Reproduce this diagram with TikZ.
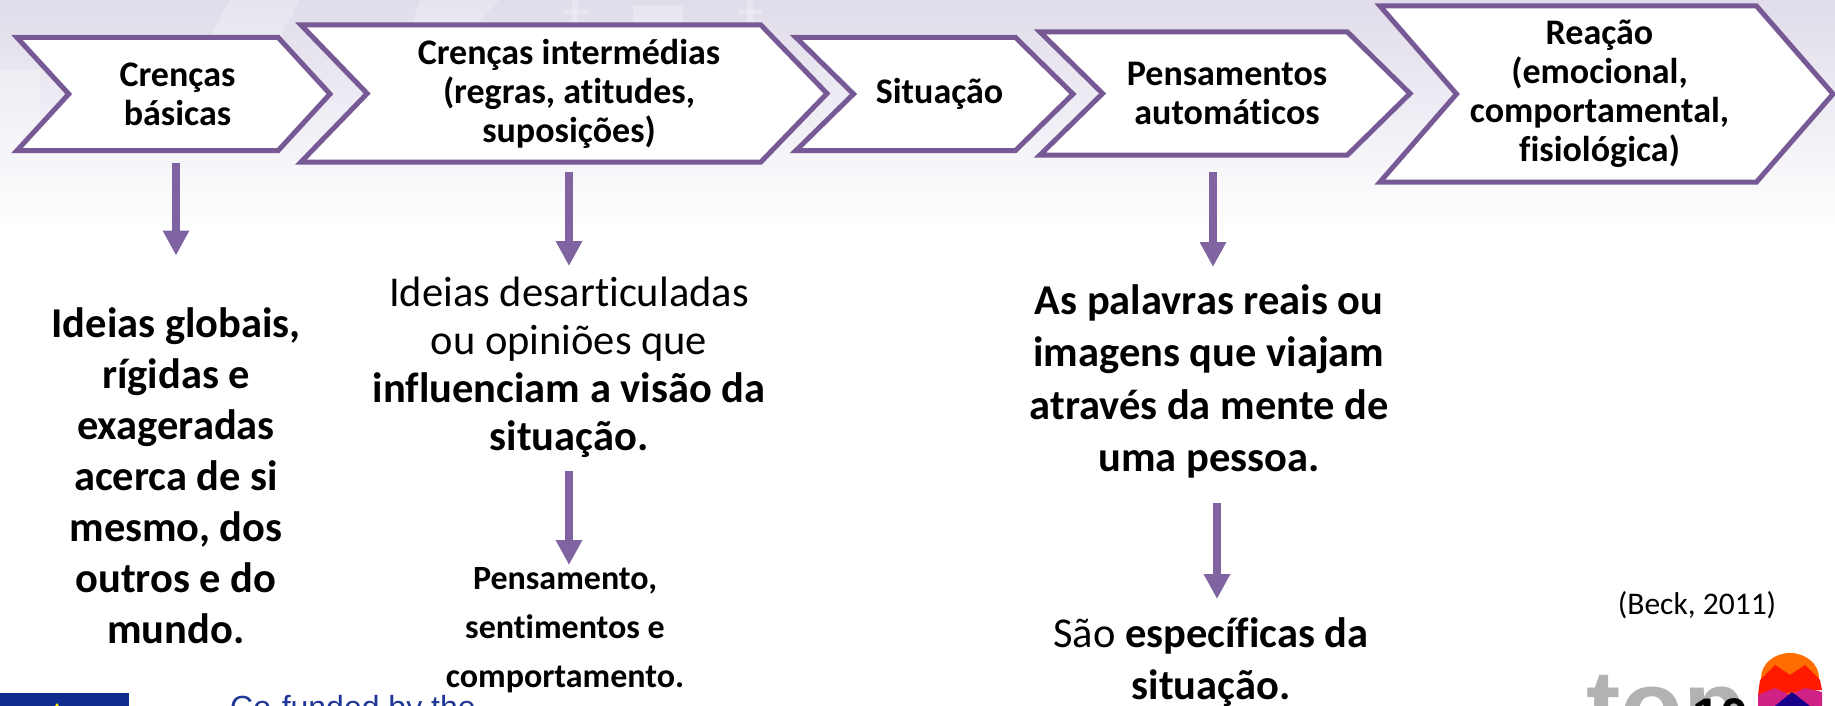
\documentclass[tikz,border=0pt]{standalone}
\usepackage{fontspec}
\setmainfont{Carlito}[Ligatures=CommonOff]
\newfontfamily\arialfont{Liberation Sans}
\usetikzlibrary{arrows.meta,shapes.symbols,shapes.geometric}
\definecolor{roxo}{HTML}{775A95}
\definecolor{seta}{HTML}{8064A2}
\definecolor{fundo}{HTML}{E0DCEA}
\tikzset{
    passo/.style={shape=signal,signal to=east,signal from=west,draw=roxo,line width=5pt,fill=white,
        inner sep=0pt,outer sep=0pt},
    rotulo/.style={align=center,inner sep=0pt,font=\fontsize{36}{39}\selectfont\bfseries},
    texto/.style={align=center,inner sep=0pt},
    ligacao/.style={draw=seta,line width=8pt,-{Triangle[length=25pt,width=25pt]}},
    fantasma/.style={white,opacity=.25},
}
\begin{document}
\begin{tikzpicture}[x=1pt,y=-1pt]
    \useasboundingbox (0,0) rectangle (1835,706);
    \begin{scope}
    \clip (0,0) rectangle (1835,706);
    \shade [top color=fundo,bottom color=white] (0,0) rectangle (1835,230);
    \fill [fantasma] (230,0) -- (300,0) -- (240,110) -- (170,110) -- cycle;
    \fill [fantasma] (420,0) -- (500,0) -- (470,30) -- (410,30) -- cycle;
    \fill [fantasma] (0,150) rectangle (40,70);
    \fill [fantasma] (633,25) rectangle (683,5);
    \fill [fantasma] (572,0) rectangle (578,25);
    \fill [fantasma] (564,9) rectangle (588,14);
    \fill [fantasma] (747,0) rectangle (753,25);
    \fill [fantasma] (738,9) rectangle (762,14);

    \node [passo,minimum width=313pt,minimum height=113pt,signal pointer angle=95,
        label={[rotulo,xshift=4pt]center:Crenças\\básicas}] (basicas) at (173.5,94) {};
    \node [passo,minimum width=526pt,minimum height=137pt,signal pointer angle=92,
        label={[rotulo,xshift=5pt]center:Crenças intermédias\\(regras, atitudes,\\suposições)}] (intermedias) at (564,93.5) {};
    \node [passo,minimum width=277pt,minimum height=113pt,signal pointer angle=89,
        label={[rotulo,xshift=5pt]center:Situação}] (situacao) at (934.5,94) {};
    \node [passo,minimum width=370pt,minimum height=123pt,signal pointer angle=89,
        label={[rotulo,xshift=2pt]center:Pensamentos\\automáticos}] (pensamentos) at (1225,93.5) {};
    \node [passo,minimum width=453pt,minimum height=176pt,signal pointer angle=98,
        label={[rotulo,xshift=-7pt]center:Reação\\(emocional,\\comportamental,\\fisiológica)}] (reacao) at (1606.5,94) {};

    \node [texto,font=\fontsize{42.5}{51}\selectfont\bfseries,anchor=north] (ideias) at (176,307) {Ideias globais,\\rígidas e\\exageradas\\acerca de si\\mesmo, dos\\outros e do\\mundo.};
    \node [texto,font=\fontsize{42.5}{48}\selectfont,anchor=north] (desarticuladas) at (569,277) {Ideias desarticuladas\\ou opiniões que\\\textbf{influenciam a visão da}\\\textbf{situação.}};
    \node [texto,font=\fontsize{34}{49}\selectfont\bfseries,anchor=north] (sentimentos) at (565,567) {Pensamento,\\sentimentos e\\comportamento.};
    \node [texto,font=\fontsize{42.5}{52.5}\selectfont\bfseries,anchor=north] (palavras) at (1209,284) {As palavras reais ou\\imagens que viajam\\através da mente de\\uma pessoa.};
    \node [texto,font=\fontsize{42.5}{52}\selectfont,anchor=north] (especificas) at (1211,617) {São \textbf{específicas da}\\\textbf{situação.}};
    \node [texto,font=\fontsize{31.5}{36}\selectfont] (beck) at (1697,605) {(Beck, 2011)};

    \draw [ligacao] (ideias.north |- basicas.south) ++(0,12) -- ++(0,93);
    \draw [ligacao] (desarticuladas.north |- intermedias.south) ++(0,10) -- ++(0,94);
    \draw [ligacao,shorten <=13pt,shorten >=2pt] (desarticuladas.south) -- (desarticuladas.south |- sentimentos.north);
    \draw [ligacao] (palavras.north |- pensamentos.south) ++(4,17) -- ++(0,95);
    \draw [ligacao,shorten <=25pt,shorten >=18pt] ([xshift=8pt]palavras.south) -- ([xshift=8pt]palavras.south |- especificas.north);

    \fill [fill={rgb,255:red,15;green,45;blue,140}] (0,693) rectangle (129,706);
    \fill [yellow] (57,703) -- (59,706) -- (55,706) -- cycle;
    \node [anchor=base west,inner sep=0pt,text={rgb,255:red,30;green,55;blue,150},font=\arialfont\fontsize{32}{36}\selectfont] (cofunded) at (230,718) {Co-funded by the};
    \node [anchor=base west,inner sep=0pt,text=black!30,font=\arialfont\fontsize{103}{110}\selectfont\bfseries] (top) at (1586,742) {top};
    \node [anchor=base west,inner sep=0pt,font=\arialfont\fontsize{50}{54}\selectfont\bfseries] (dez) at (1692,733) {10};
    \fill [orange!85!red] (1790,678) ellipse (29pt and 25pt);
    \fill [red!80!orange] (1760,680) -- (1775,665) -- (1790,675) -- (1805,665) -- (1820,680) -- (1822,690) -- (1758,695) -- cycle;
    \fill [magenta!85!black] (1758,695) -- (1775,688) -- (1790,695) -- (1805,688) -- (1822,692) -- (1822,706) -- (1758,706) -- cycle;
    \fill [blue!60!black!90!red] (1775,706) -- (1792,692) -- (1810,706) -- cycle;
    \end{scope}
\end{tikzpicture}
\end{document}
